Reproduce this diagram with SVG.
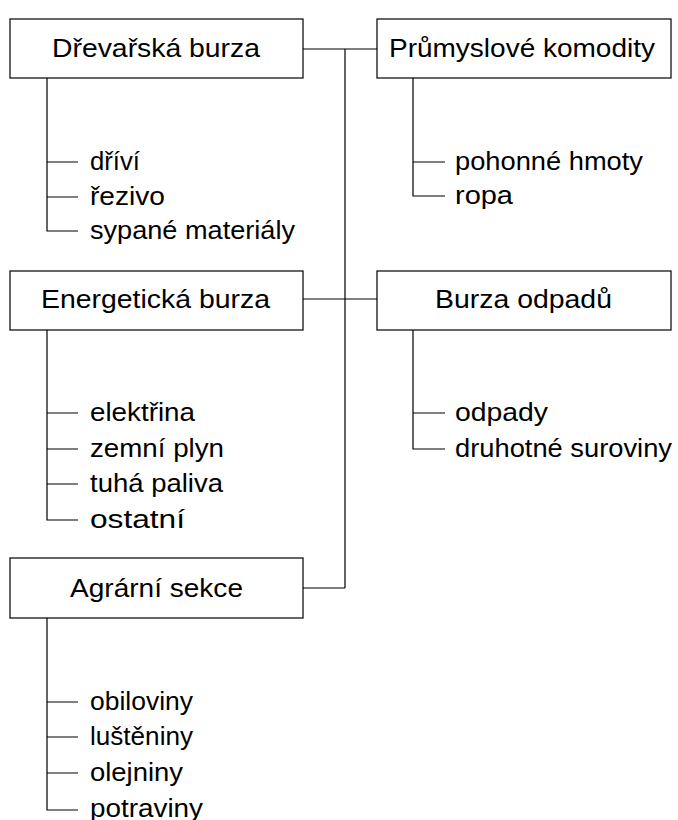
<svg xmlns="http://www.w3.org/2000/svg" width="678" height="820" viewBox="0 0 678 820">
<style>
.box{fill:#fff;stroke:#000;stroke-width:1.2}
.ln{fill:none;stroke:#000;stroke-width:1.2}
text{font-family:"Liberation Sans",Arial,sans-serif;font-size:25px;fill:#000}
.c{text-anchor:middle}
</style>
<rect width="678" height="820" fill="#fff"/>
<g id="connectors">
<path class="ln" d="M303,49 H377 M345,49 V588 M303,299 H377 M303,588 H345"/>
<path class="ln" d="M47,78 V231 H78 M47,162 H78 M47,197 H78"/>
<path class="ln" d="M413,78 V196 H445 M413,162 H445"/>
<path class="ln" d="M47,330 V520 H78 M47,413 H78 M47,449 H78 M47,484 H78"/>
<path class="ln" d="M413,330 V449 H445 M413,413 H445"/>
<path class="ln" d="M47,618 V810 H78 M47,702 H78 M47,737 H78 M47,773 H78"/>
</g>
<g id="drevarska">
<rect class="box" x="10" y="19" width="293" height="59"/>
<text class="c" x="156" y="57" textLength="208" lengthAdjust="spacingAndGlyphs">Dřevařská burza</text>
<text x="90" y="170" textLength="50" lengthAdjust="spacingAndGlyphs">dříví</text>
<text x="90" y="205" textLength="75" lengthAdjust="spacingAndGlyphs">řezivo</text>
<text x="90" y="239" textLength="205" lengthAdjust="spacingAndGlyphs">sypané materiály</text>
</g>
<g id="prumyslove">
<rect class="box" x="377" y="19" width="294" height="59"/>
<text class="c" x="522" y="57" textLength="266" lengthAdjust="spacingAndGlyphs">Průmyslové komodity</text>
<text x="455" y="170" textLength="188" lengthAdjust="spacingAndGlyphs">pohonné hmoty</text>
<text x="455" y="204" textLength="58" lengthAdjust="spacingAndGlyphs">ropa</text>
</g>
<g id="energeticka">
<rect class="box" x="10" y="271" width="293" height="59"/>
<text class="c" x="155.5" y="308" textLength="229" lengthAdjust="spacingAndGlyphs">Energetická burza</text>
<text x="90" y="421" textLength="105" lengthAdjust="spacingAndGlyphs">elektřina</text>
<text x="90" y="457" textLength="134" lengthAdjust="spacingAndGlyphs">zemní plyn</text>
<text x="90" y="492" textLength="133" lengthAdjust="spacingAndGlyphs">tuhá paliva</text>
<text x="90" y="528" textLength="95" lengthAdjust="spacingAndGlyphs">ostatní</text>
</g>
<g id="odpady">
<rect class="box" x="377" y="271" width="294" height="59"/>
<text class="c" x="523.5" y="308" textLength="177" lengthAdjust="spacingAndGlyphs">Burza odpadů</text>
<text x="455" y="421" textLength="93" lengthAdjust="spacingAndGlyphs">odpady</text>
<text x="455" y="457" textLength="217" lengthAdjust="spacingAndGlyphs">druhotné suroviny</text>
</g>
<g id="agrarni">
<rect class="box" x="10" y="558" width="293" height="60"/>
<text class="c" x="156.5" y="597" textLength="173" lengthAdjust="spacingAndGlyphs">Agrární sekce</text>
<text x="90" y="710" textLength="103" lengthAdjust="spacingAndGlyphs">obiloviny</text>
<text x="90" y="745" textLength="103" lengthAdjust="spacingAndGlyphs">luštěniny</text>
<text x="90" y="781" textLength="93" lengthAdjust="spacingAndGlyphs">olejniny</text>
<text x="90" y="817" textLength="113" lengthAdjust="spacingAndGlyphs">potraviny</text>
</g>
</svg>
